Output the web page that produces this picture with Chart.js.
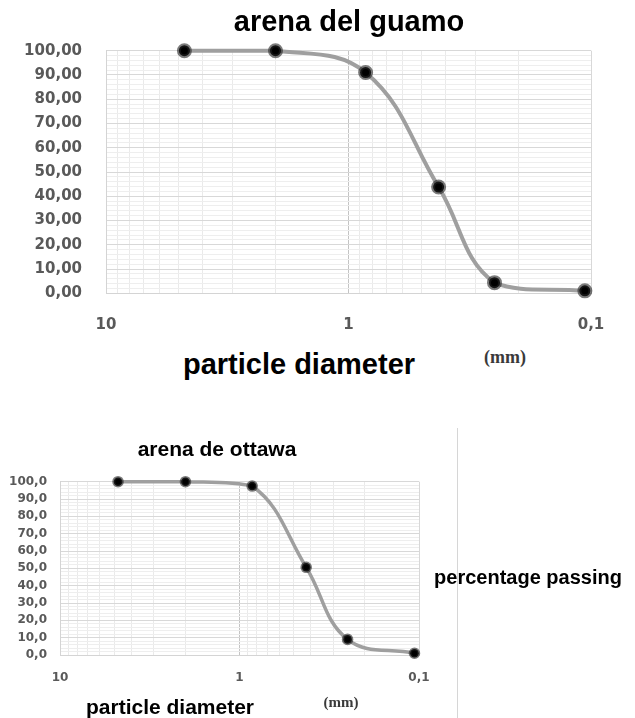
<!DOCTYPE html>
<html>
<head>
<meta charset="utf-8">
<script src="https://cdn.jsdelivr.net/npm/chart.js@4.4.1/dist/chart.umd.min.js"></script>
<style>
  html, body { margin: 0; padding: 0; background: #fff; }
  body { width: 635px; height: 718px; position: relative; overflow: hidden; }
  canvas { position: absolute; }
  .t { position: absolute; white-space: nowrap; line-height: 1; transform: translate(-50%, -50%);
       font-family: "Liberation Sans", Arial, sans-serif; font-weight: bold; color: #000; }
  .mm { font-family: "Liberation Serif", "Times New Roman", serif; color: #3a3a3a; }
</style>
</head>
<body>
<canvas id="c1" width="635" height="340" style="left:0;top:0;width:635px;height:340px"></canvas>
<canvas id="c2" width="440" height="298" style="left:0;top:420px;width:440px;height:298px"></canvas>

<div class="t" style="left:349px;top:21px;font-size:29px">arena del guamo</div>
<div class="t" style="left:299px;top:364px;font-size:29px">particle diameter</div>
<div class="t mm" style="left:505px;top:357px;font-size:18px">(mm)</div>

<div class="t" style="left:217px;top:448px;font-size:21px">arena de ottawa</div>
<div class="t" style="left:170px;top:706px;font-size:21px">particle diameter</div>
<div class="t mm" style="left:341px;top:702px;font-size:15px">(mm)</div>
<div class="t" style="left:528px;top:577px;font-size:20px">percentage passing</div>
<div style="position:absolute;left:457px;top:428px;width:1px;height:290px;background:#d6d6d6"></div>

<script>
// ---- data ----
const sieveSizesMm = [4.75, 2.0, 0.85, 0.425, 0.25, 0.106];
const guamoPassing = [100, 100, 91.0, 43.8, 4.4, 1.0];
const ottawaPassing = [100, 100, 97.5, 50.6, 9.0, 1.0];
const xTickValues = [0.1, 0.2, 0.3, 0.4, 0.5, 0.6, 0.7, 0.8, 0.9,
                     1, 2, 3, 4, 5, 6, 7, 8, 9, 10];
const xMajorValues = [10, 1, 0.1];
const xMajorLabels = ['10', '1', '0,1'];
const yTickValues = [0, 2, 4, 6, 8, 10, 12, 14, 16, 18, 20, 22, 24, 26, 28, 30, 32, 34, 36, 38, 40,
                     42, 44, 46, 48, 50, 52, 54, 56, 58, 60, 62, 64, 66, 68, 70, 72, 74, 76, 78, 80,
                     82, 84, 86, 88, 90, 92, 94, 96, 98, 100];

function majorIndex(v) {
  return xMajorValues.findIndex(m => Math.abs(Math.log10(v) - Math.log10(m)) < 1e-6);
}

function makeChart(id, values, o) {
  const pts = sieveSizesMm.map((s, i) => ({ x: s, y: values[i] }));
  return new Chart(document.getElementById(id), {
    type: 'line',
    data: {
      datasets: [{
        data: pts,
        borderColor: '#9f9f9f',
        borderWidth: o.lineW,
        tension: 0.4,
        pointRadius: o.ptR,
        pointHoverRadius: o.ptR,
        pointBackgroundColor: '#000',
        pointBorderColor: 'rgba(35,35,35,0.6)',
        pointBorderWidth: o.ptB,
        clip: false
      }]
    },
    options: {
      responsive: false,
      animation: false,
      events: [],
      layout: { padding: { top: o.padTop, right: o.padRight, left: 0, bottom: 0 } },
      plugins: { legend: { display: false }, tooltip: { enabled: false } },
      scales: {
        x: {
          type: 'logarithmic',
          reverse: true,
          min: 0.1,
          max: 10,
          afterBuildTicks: s => { s.ticks = xTickValues.map(v => ({ value: v })); },
          afterFit: s => { s.height = o.xH; },
          border: { display: true, color: '#d4d4d4' },
          grid: {
            drawTicks: false,
            color: c => {
              const k = majorIndex(c.tick.value);
              if (k === 1) return '#c4c4c4';
              if (k >= 0) return '#d8d8d8';
              return '#eaeaea';
            }
          },
          ticks: {
            autoSkip: false,
            maxRotation: 0,
            padding: o.xPad,
            color: '#595959',
            font: { family: 'DejaVu Sans', weight: 'bold', size: o.fs },
            callback: v => { const k = majorIndex(v); return k >= 0 ? xMajorLabels[k] : ''; }
          }
        },
        y: {
          min: 0,
          max: 100,
          afterBuildTicks: s => { s.ticks = yTickValues.map(v => ({ value: v })); },
          afterFit: s => { s.width = o.yW; },
          border: { display: true, color: '#d4d4d4' },
          grid: {
            drawTicks: false,
            color: c => (c.tick.value % 10 === 0 ? '#d8d8d8' : '#eeeeee')
          },
          ticks: {
            autoSkip: false,
            padding: o.yPad,
            color: '#595959',
            font: { family: 'DejaVu Sans', weight: 'bold', size: o.fs },
            callback: v => (v % 10 === 0 ? v.toFixed(o.dec).replace('.', ',') : '')
          }
        }
      }
    }
  });
}

makeChart('c1', guamoPassing, {
  padTop: 50.7, padRight: 44, yW: 106, xH: 46.7, fs: 15, dec: 2, yPad: 24, xPad: 23,
  lineW: 4, ptR: 5.5, ptB: 4
});
makeChart('c2', ottawaPassing, {
  padTop: 61.7, padRight: 21, yW: 60, xH: 63, fs: 12, dec: 1, yPad: 13, xPad: 16,
  lineW: 3.5, ptR: 4.3, ptB: 3
});
</script>
</body>
</html>
